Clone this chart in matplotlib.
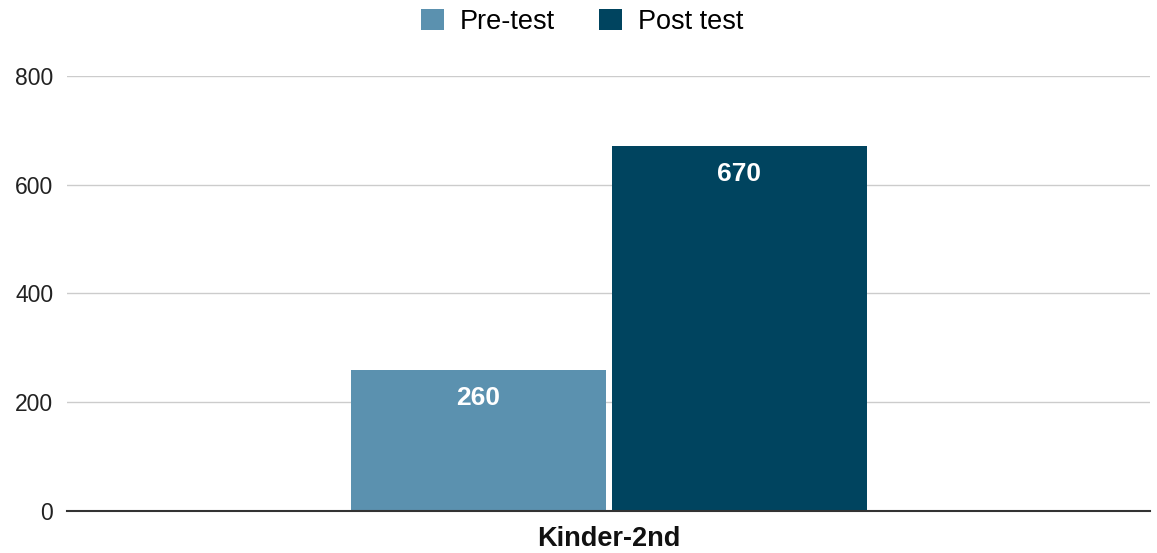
import numpy as np
import matplotlib.pyplot as plt

plt.rcParams['font.family'] = ['Liberation Sans', 'DejaVu Sans']

category = "Kinder-2nd"
series = ["Pre-test", "Post test"]
values = [260, 670]
colors = ["#5b91af", "#00445f"]
yticks = [0, 200, 400, 600, 800]

fig = plt.figure(figsize=(11.57, 5.53), dpi=100)
ax = fig.add_axes([0.058, 0.076, 0.936, 0.787])

w = 0.2355
gap = 0.0028
offsets = [-w / 2 - gap, w / 2 + gap]
for name, v, c, off in zip(series, values, colors, offsets):
    ax.bar(off, v, width=w, color=c, label=name, zorder=3)
    ax.text(off, v - 28 / 0.5437, str(v), ha='center', va='center',
            color='white', fontsize=19, fontweight='bold', zorder=4)

ax.set_xlim(-0.5, 0.5)
ax.set_ylim(0, 800)
ax.set_yticks(yticks)
ax.set_yticklabels([str(t) for t in yticks], fontsize=16.5, color='#222222')
ax.set_xticks([0])
ax.set_xticklabels([category], fontsize=19.5, fontweight='bold', color='#111111')
ax.tick_params(axis='both', length=0)
ax.tick_params(axis='y', pad=10)
ax.tick_params(axis='x', pad=11)
ax.grid(axis='y', color='#cccccc', lw=1, zorder=0)
for s in ['top', 'right', 'left']:
    ax.spines[s].set_visible(False)
ax.spines['bottom'].set_color('#333333')
ax.spines['bottom'].set_linewidth(1.5)
ax.spines['bottom'].set_zorder(5)

fig.legend(loc='upper center', bbox_to_anchor=(0.503, 1.028), ncol=2, frameon=False,
           fontsize=19.5, handlelength=0.85, handleheight=0.85, handletextpad=0.6,
           columnspacing=1.6)

fig.savefig('out.png', dpi=100)
